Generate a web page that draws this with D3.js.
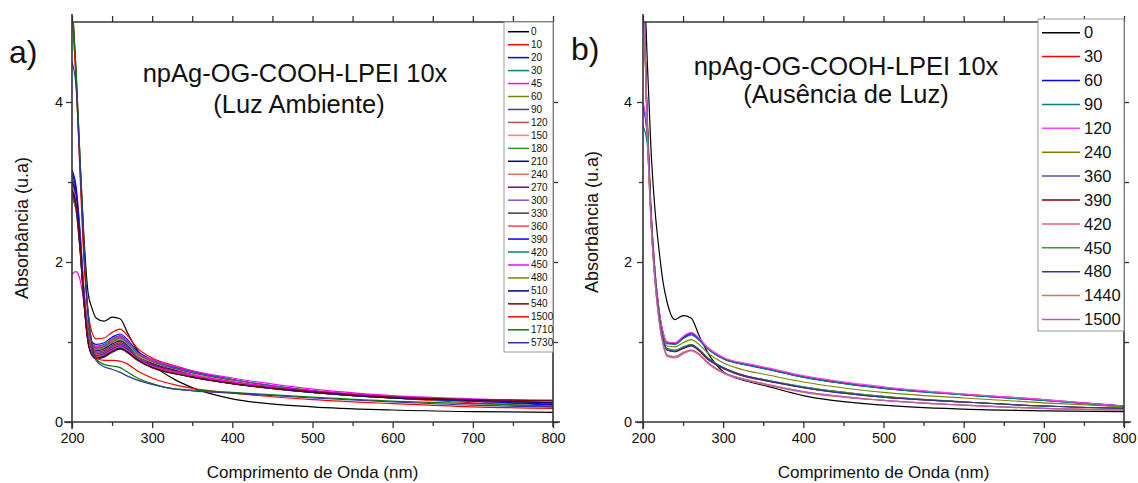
<!DOCTYPE html>
<html>
<head>
<meta charset="utf-8">
<script src="https://cdn.jsdelivr.net/npm/d3@7"></script>
<style>
body { margin: 0; background: #fff; }
svg text { font-family: "Liberation Sans", Arial, sans-serif; fill: #111; }
</style>
</head>
<body>
<svg id="chart" width="1138" height="483"></svg>
<script>
// Wavelength grid (nm) shared by every spectrum
const wavelengths = [200, 205, 210, 215, 220, 225, 230, 240, 250, 260, 270, 280, 300, 330, 350, 400, 500, 600, 700, 800];

// a) ambient light - time labels and absorbance
const labelsA = ["0", "10", "20", "30", "45", "60", "90", "120", "150", "180", "210", "240", "270", "300",
  "330", "360", "390", "420", "450", "480", "510", "540", "1500", "1710", "5730"];
const absA = [
  [5.3, 4.4, 3.3, 2.3, 1.62, 1.42, 1.3, 1.26, 1.31, 1.29, 1.1, 0.92, 0.72, 0.52, 0.43, 0.29, 0.19, 0.15, 0.13, 0.12], // 0
  [5.2, 4.3, 3.1, 2.0, 1.38, 1.12, 1.04, 1.05, 1.12, 1.16, 1.07, 0.94, 0.8, 0.7, 0.64, 0.53, 0.38, 0.3, 0.24, 0.19], // 10
  [3.15, 2.95, 2.4, 1.65, 1.18, 1.0, 0.97, 0.99, 1.06, 1.1, 1.02, 0.9, 0.78, 0.68, 0.63, 0.53, 0.39, 0.31, 0.26, 0.21], // 20
  [3.0, 2.85, 2.35, 1.62, 1.15, 0.98, 0.95, 0.97, 1.04, 1.08, 1.0, 0.88, 0.77, 0.67, 0.62, 0.53, 0.39, 0.31, 0.26, 0.23], // 30
  [2.9, 2.75, 2.3, 1.6, 1.13, 0.97, 0.94, 0.96, 1.03, 1.07, 0.99, 0.88, 0.78, 0.69, 0.64, 0.55, 0.41, 0.33, 0.29, 0.27], // 45
  [2.95, 2.8, 2.3, 1.6, 1.12, 0.96, 0.93, 0.95, 1.02, 1.06, 0.98, 0.87, 0.76, 0.66, 0.61, 0.52, 0.39, 0.32, 0.28, 0.25], // 60
  [3.05, 2.85, 2.3, 1.58, 1.1, 0.95, 0.92, 0.94, 1.0, 1.05, 0.97, 0.86, 0.75, 0.66, 0.61, 0.52, 0.39, 0.31, 0.27, 0.24], // 90
  [2.9, 2.75, 2.25, 1.56, 1.09, 0.94, 0.91, 0.93, 0.99, 1.04, 0.96, 0.85, 0.74, 0.65, 0.6, 0.51, 0.38, 0.31, 0.26, 0.23], // 120
  [2.95, 2.8, 2.28, 1.57, 1.1, 0.94, 0.9, 0.92, 0.98, 1.03, 0.96, 0.85, 0.74, 0.65, 0.6, 0.51, 0.38, 0.3, 0.26, 0.23], // 150
  [2.85, 2.7, 2.2, 1.55, 1.08, 0.93, 0.9, 0.92, 0.98, 1.02, 0.95, 0.84, 0.73, 0.64, 0.59, 0.5, 0.38, 0.3, 0.26, 0.23], // 180
  [3.0, 2.82, 2.28, 1.56, 1.08, 0.92, 0.89, 0.91, 0.97, 1.01, 0.94, 0.83, 0.73, 0.64, 0.59, 0.5, 0.38, 0.31, 0.27, 0.24], // 210
  [2.9, 2.75, 2.22, 1.54, 1.07, 0.92, 0.88, 0.9, 0.96, 1.0, 0.93, 0.83, 0.72, 0.63, 0.59, 0.5, 0.38, 0.31, 0.27, 0.24], // 240
  [2.85, 2.7, 2.2, 1.53, 1.06, 0.91, 0.87, 0.89, 0.95, 0.99, 0.93, 0.82, 0.72, 0.63, 0.58, 0.5, 0.38, 0.31, 0.27, 0.25], // 270
  [2.9, 2.72, 2.2, 1.52, 1.05, 0.9, 0.86, 0.88, 0.94, 0.98, 0.92, 0.82, 0.71, 0.62, 0.58, 0.49, 0.37, 0.3, 0.27, 0.24], // 300
  [2.8, 2.65, 2.15, 1.5, 1.04, 0.89, 0.85, 0.87, 0.93, 0.97, 0.91, 0.81, 0.71, 0.62, 0.57, 0.49, 0.37, 0.3, 0.27, 0.24], // 330
  [2.95, 2.78, 2.25, 1.53, 1.04, 0.88, 0.84, 0.86, 0.92, 0.96, 0.9, 0.8, 0.7, 0.62, 0.57, 0.49, 0.37, 0.3, 0.26, 0.23], // 360
  [3.1, 2.9, 2.3, 1.55, 1.03, 0.87, 0.83, 0.85, 0.91, 0.95, 0.9, 0.8, 0.7, 0.61, 0.57, 0.48, 0.37, 0.3, 0.26, 0.22], // 390
  [2.85, 2.7, 2.18, 1.5, 1.02, 0.86, 0.82, 0.84, 0.9, 0.94, 0.89, 0.8, 0.69, 0.61, 0.56, 0.48, 0.37, 0.3, 0.27, 0.24], // 420
  [1.85, 1.88, 1.78, 1.48, 1.02, 0.86, 0.82, 0.84, 0.9, 0.94, 0.89, 0.8, 0.7, 0.62, 0.58, 0.5, 0.39, 0.32, 0.28, 0.26], // 450
  [2.8, 2.65, 2.15, 1.48, 1.01, 0.85, 0.81, 0.83, 0.89, 0.93, 0.88, 0.79, 0.69, 0.61, 0.56, 0.48, 0.37, 0.31, 0.27, 0.25], // 480
  [2.9, 2.72, 2.2, 1.5, 1.0, 0.84, 0.8, 0.82, 0.88, 0.92, 0.87, 0.79, 0.68, 0.6, 0.56, 0.48, 0.37, 0.3, 0.27, 0.24], // 510
  [2.85, 2.7, 2.18, 1.48, 0.99, 0.83, 0.79, 0.81, 0.87, 0.91, 0.86, 0.78, 0.68, 0.6, 0.56, 0.48, 0.38, 0.31, 0.28, 0.27], // 540
  [5.2, 4.3, 3.2, 2.1, 1.32, 0.98, 0.8, 0.77, 0.77, 0.76, 0.72, 0.65, 0.55, 0.46, 0.42, 0.36, 0.28, 0.23, 0.19, 0.17], // 1500
  [5.3, 4.4, 3.3, 2.2, 1.38, 0.98, 0.79, 0.72, 0.7, 0.68, 0.62, 0.56, 0.48, 0.41, 0.4, 0.37, 0.31, 0.26, 0.23, 0.2], // 1710
  [4.5, 4.2, 3.2, 2.15, 1.36, 0.96, 0.77, 0.69, 0.66, 0.62, 0.57, 0.53, 0.47, 0.41, 0.39, 0.36, 0.3, 0.25, 0.21, 0.19] // 5730
];

// b) absence of light
const labelsB = ["0", "30", "60", "90", "120", "240", "360", "390", "420", "450", "480", "1440", "1500"];
const absB = [
  [6.0, 4.6, 3.4, 2.65, 2.15, 1.75, 1.5, 1.28, 1.33, 1.3, 1.08, 0.88, 0.63, 0.51, 0.46, 0.33, 0.21, 0.16, 0.14, 0.13], // 0
  [5.6, 3.9, 2.65, 1.88, 1.4, 1.12, 1.0, 0.99, 1.06, 1.11, 1.04, 0.93, 0.8, 0.72, 0.68, 0.57, 0.43, 0.35, 0.28, 0.2], // 30
  [3.95, 3.6, 2.62, 1.87, 1.39, 1.11, 0.99, 0.98, 1.05, 1.1, 1.03, 0.92, 0.79, 0.71, 0.67, 0.56, 0.42, 0.34, 0.27, 0.2], // 60
  [3.7, 3.5, 2.6, 1.86, 1.38, 1.1, 0.98, 0.97, 1.04, 1.09, 1.02, 0.92, 0.79, 0.71, 0.67, 0.56, 0.42, 0.34, 0.27, 0.19], // 90
  [4.0, 3.65, 2.64, 1.88, 1.4, 1.12, 1.0, 0.99, 1.07, 1.12, 1.05, 0.94, 0.81, 0.73, 0.69, 0.58, 0.44, 0.35, 0.28, 0.2], // 120
  [5.6, 3.85, 2.6, 1.84, 1.36, 1.07, 0.95, 0.94, 0.99, 1.03, 0.97, 0.87, 0.74, 0.64, 0.6, 0.5, 0.37, 0.3, 0.24, 0.19], // 240
  [5.6, 3.8, 2.55, 1.8, 1.33, 1.04, 0.91, 0.89, 0.93, 0.96, 0.9, 0.8, 0.68, 0.57, 0.53, 0.44, 0.32, 0.25, 0.2, 0.17], // 360
  [5.6, 3.8, 2.55, 1.8, 1.32, 1.03, 0.9, 0.88, 0.92, 0.95, 0.89, 0.79, 0.67, 0.56, 0.52, 0.43, 0.31, 0.25, 0.2, 0.17], // 390
  [5.6, 3.75, 2.5, 1.76, 1.28, 0.98, 0.84, 0.82, 0.87, 0.9, 0.85, 0.75, 0.62, 0.53, 0.48, 0.38, 0.27, 0.21, 0.17, 0.15], // 420
  [5.6, 3.8, 2.55, 1.8, 1.33, 1.04, 0.92, 0.9, 0.94, 0.97, 0.91, 0.81, 0.68, 0.57, 0.53, 0.44, 0.32, 0.25, 0.2, 0.17], // 450
  [5.6, 3.8, 2.55, 1.8, 1.32, 1.03, 0.9, 0.88, 0.92, 0.96, 0.9, 0.8, 0.68, 0.57, 0.53, 0.43, 0.31, 0.25, 0.2, 0.17], // 480
  [5.6, 3.75, 2.5, 1.75, 1.27, 0.97, 0.82, 0.8, 0.85, 0.89, 0.84, 0.74, 0.61, 0.52, 0.47, 0.37, 0.27, 0.21, 0.17, 0.15], // 1440
  [5.6, 3.75, 2.5, 1.76, 1.28, 0.98, 0.83, 0.81, 0.86, 0.9, 0.85, 0.75, 0.62, 0.52, 0.48, 0.38, 0.27, 0.21, 0.17, 0.15] // 1500
];

// Axis ticks
const xMajor = [200, 300, 400, 500, 600, 700, 800];
const xMinor = [250, 350, 450, 550, 650, 750];
const yMajor = [0, 2, 4];
const yMinor = [1, 3];

// Origin-like colour cycles
const colorsA = ["#000000", "#ff0000", "#0000ff", "#008080", "#ff00ff", "#808000", "#40409f", "#b05050",
  "#ff8080", "#339933", "#000080", "#e0704f", "#800080", "#9050c0", "#404040", "#ff4040", "#0000ff",
  "#008080", "#ff00ff", "#808000", "#000080", "#800000", "#ff0000", "#008000", "#333399"];
const colorsB = ["#000000", "#ff0000", "#0000ff", "#008080", "#ff40ff", "#808000", "#5555b0", "#800000",
  "#e06070", "#339933", "#333399", "#e07050", "#b060c0"];

const svg = d3.select("#chart");
const axisColor = "#333";

function drawPanel(p) {
   const x = d3.scaleLinear().domain([200, 800]).range([p.left, p.right]);
   const y = d3.scaleLinear().domain([0, 5]).range([422, 22]);
   const top = y(5), bottom = y(0);

   // Clip the spectra to the frame
   svg.append("clipPath").attr("id", "clip-" + p.id)
      .append("rect")
      .attr("x", p.left).attr("y", top)
      .attr("width", p.right - p.left).attr("height", bottom - top);

   const line = d3.line()
      .x((d, i) => x(wavelengths[i]))
      .y((d) => y(d))
      .curve(d3.curveMonotoneX);

   svg.append("g")
      .attr("clip-path", `url(#clip-${p.id})`)
      .attr("fill", "none")
      .selectAll("path")
      .data(p.values)
      .join("path")
      .attr("d", line)
      .attr("stroke", (d, i) => p.colors[i])
      .attr("stroke-width", 1.2);

   // Axes: ticks out on all four sides
   const noDomain = (g) => g.select(".domain").remove();
   const axisG = svg.append("g").attr("color", axisColor);

   axisG.append("g").attr("transform", `translate(0,${bottom})`)
      .call(d3.axisBottom(x).tickValues(xMajor).tickSize(6).tickPadding(5).tickFormat(d3.format("d")))
      .call(noDomain)
      .call((g) => g.selectAll("text").attr("font-size", 14.5).attr("font-family", "Liberation Sans, Arial"));
   axisG.append("g").attr("transform", `translate(0,${bottom})`)
      .call(d3.axisBottom(x).tickValues(xMinor).tickSize(4).tickFormat(""))
      .call(noDomain);
   axisG.append("g").attr("transform", `translate(0,${top})`)
      .call(d3.axisTop(x).tickValues(xMajor.concat(xMinor)).tickSize(6).tickFormat(""))
      .call(noDomain);

   axisG.append("g").attr("transform", `translate(${p.left},0)`)
      .call(d3.axisLeft(y).tickValues(yMajor).tickSize(6).tickPadding(p.yPad).tickFormat(d3.format("d")))
      .call(noDomain)
      .call((g) => g.selectAll("text").attr("font-size", 14.5).attr("font-family", "Liberation Sans, Arial"));
   axisG.append("g").attr("transform", `translate(${p.left},0)`)
      .call(d3.axisLeft(y).tickValues(yMinor).tickSize(4).tickFormat(""))
      .call(noDomain);
   axisG.append("g").attr("transform", `translate(${p.right},0)`)
      .call(d3.axisRight(y).tickValues(yMajor.concat(yMinor)).tickSize(5).tickFormat(""))
      .call(noDomain);

   axisG.selectAll(".tick line").attr("stroke-width", 1.3);

   // Frame lines, left and bottom ones overshoot like the original
   const frame = axisG.append("g").attr("stroke", axisColor).attr("stroke-width", 1.6);
   frame.append("line").attr("x1", p.left - 8).attr("x2", p.right + 7).attr("y1", bottom).attr("y2", bottom);
   frame.append("line").attr("x1", p.left).attr("x2", p.left).attr("y1", top - 8).attr("y2", bottom + 7);
   frame.append("line").attr("x1", p.left).attr("x2", p.right).attr("y1", top).attr("y2", top);
   frame.append("line").attr("x1", p.right).attr("x2", p.right).attr("y1", top).attr("y2", bottom + 5);

   // Axis titles
   svg.append("text")
      .attr("x", (p.left + p.right) / 2).attr("y", 478)
      .attr("text-anchor", "middle").attr("font-size", 17)
      .text("Comprimento de Onda (nm)");
   svg.append("text")
      .attr("transform", `translate(${p.yTitleX},${p.yTitleY}) rotate(-90)`)
      .attr("text-anchor", "middle").attr("font-size", 18)
      .text("Absorbância (u.a)");

   // Panel letter and title
   svg.append("text").attr("x", p.letterX).attr("y", p.letterY)
      .attr("font-size", 32).text(p.letter);
   p.title.forEach((t, i) => {
      svg.append("text")
         .attr("x", p.titleX[i]).attr("y", p.titleY[i])
         .attr("text-anchor", "middle").attr("font-size", 25.5)
         .text(t);
   });

   // Legend
   const lg = p.legend;
   const legend = svg.append("g");
   legend.append("rect")
      .attr("x", lg.x).attr("y", lg.y)
      .attr("width", lg.w).attr("height", lg.h)
      .attr("fill", "#fff").attr("stroke", "#999").attr("stroke-width", 1);
   const item = legend.selectAll("g.item")
      .data(p.labels)
      .join("g")
      .attr("class", "item")
      .attr("transform", (d, i) => `translate(0,${lg.first + i * lg.step})`);
   item.append("line")
      .attr("x1", lg.lineX1).attr("x2", lg.lineX2)
      .attr("stroke", (d, i) => p.colors[i])
      .attr("stroke-width", lg.lineW);
   item.append("text")
      .attr("x", lg.textX).attr("dy", "0.35em")
      .attr("font-size", lg.font)
      .text((d) => d);
}

drawPanel({
   id: "a", left: 72, right: 553, yPad: 3,
   values: absA, labels: labelsA, colors: colorsA,
   yTitleX: 28, yTitleY: 228,
   letter: "a)", letterX: 9, letterY: 63,
   title: ["npAg-OG-COOH-LPEI 10x", "(Luz Ambiente)"],
   titleX: [295, 299], titleY: [82, 113],
   legend: { x: 504, y: 22, w: 49, h: 330, first: 31.7, step: 12.96,
      lineX1: 508, lineX2: 529, lineW: 1.5, textX: 531, font: 10 }
});

drawPanel({
   id: "b", left: 643, right: 1124, yPad: 5,
   values: absB, labels: labelsB, colors: colorsB,
   yTitleX: 598, yTitleY: 222,
   letter: "b)", letterX: 571, letterY: 60,
   title: ["npAg-OG-COOH-LPEI 10x", "(Ausência de Luz)"],
   titleX: [846, 846], titleY: [75, 103],
   legend: { x: 1038, y: 19, w: 86, h: 312, first: 32.7, step: 23.9,
      lineX1: 1042, lineX2: 1080, lineW: 1.5, textX: 1084, font: 16.5 }
});
</script>
</body>
</html>
